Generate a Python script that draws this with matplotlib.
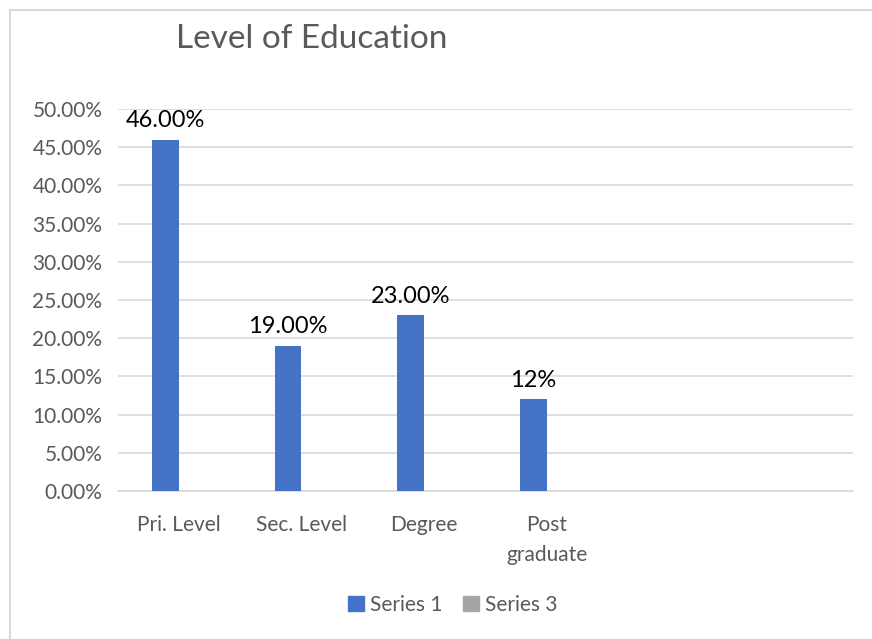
import matplotlib
matplotlib.use('Agg')
import matplotlib.pyplot as plt
import numpy as np
from matplotlib.lines import Line2D
from matplotlib.patches import Patch

plt.rcParams['font.family'] = ['Lato', 'DejaVu Sans']

# chart data
categories = ['Pri. Level', 'Sec. Level', 'Degree', 'Post\ngraduate', '', '']
series1 = [0.46, 0.19, 0.23, 0.12, np.nan, np.nan]
series3 = [np.nan, np.nan, np.nan, np.nan, np.nan, np.nan]
labels1 = ['46.00%', '19.00%', '23.00%', '12%']
yticks = np.arange(0, 0.51, 0.05)

blue = '#4472C4'
grey = '#A5A5A5'
grid_c = '#D9D9D9'
text_c = '#595959'

fig = plt.figure(figsize=(8.72, 6.39), dpi=100)
# only the left and top edges of the chart frame are visible
fx, fy = 10 / 872, 1 - 10 / 639
fig.add_artist(Line2D([fx, fx], [0, fy], transform=fig.transFigure,
                      color=grid_c, linewidth=1.5))
fig.add_artist(Line2D([fx, 1], [fy, fy], transform=fig.transFigure,
                      color=grid_c, linewidth=1.5))

ax = fig.add_axes([0.135, 0.2316, 0.843, 0.5978])

x = np.arange(len(categories))
w = 0.22
ax.bar(x - w / 2, series1, width=w, color=blue, label='Series 1', zorder=3)
ax.bar(x + w / 2, series3, width=w, color=grey, label='Series 3', zorder=3)

for i, txt in enumerate(labels1):
    ax.text(x[i] - w / 2, series1[i] + 0.011, txt, ha='center', va='bottom',
            fontsize=17, color='black')

ax.set_xlim(-0.5, len(categories) - 0.5)
ax.set_ylim(0, 0.5)
ax.set_yticks(yticks)
ax.set_yticklabels(['%.2f%%' % (v * 100) for v in yticks])
ax.set_xticks(x)
ax.set_xticklabels(categories, linespacing=1.65)
ax.tick_params(axis='both', length=0, labelsize=15, colors=text_c)
ax.tick_params(axis='x', pad=17)
ax.tick_params(axis='y', pad=11)
ax.yaxis.grid(True, color=grid_c, linewidth=1.2, zorder=0)
for s in ['top', 'right', 'left']:
    ax.spines[s].set_visible(False)
ax.spines['bottom'].set_color(grid_c)
ax.spines['bottom'].set_linewidth(1.2)

fig.text(312 / 872, 1 - 39 / 639, 'Level of Education', ha='center', va='center',
         fontsize=24, color=text_c)

handles = [Patch(color=blue, label='Series 1'), Patch(color=grey, label='Series 3')]
fig.legend(handles=handles, loc='center', bbox_to_anchor=(453 / 872, 1 - 605 / 639),
           ncol=2, frameon=False, fontsize=15, labelcolor=text_c,
           handlelength=0.75, handleheight=0.75, handletextpad=0.3, columnspacing=1.0)

plt.savefig('out.png', dpi=100)
